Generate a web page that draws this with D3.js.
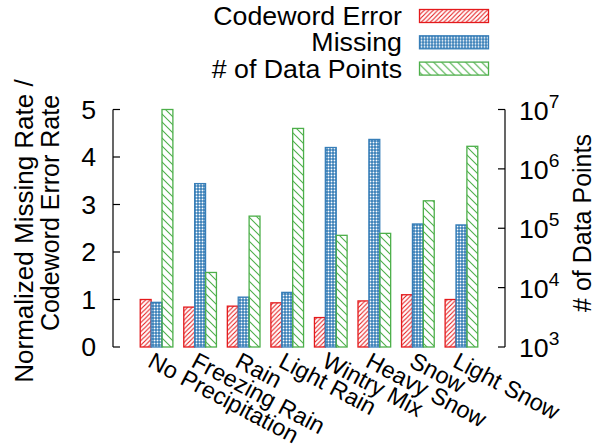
<!DOCTYPE html>
<html>
<head>
<meta charset="utf-8">
<script src="https://cdn.jsdelivr.net/npm/d3@7"></script>
<style>
  body { margin: 0; background: #fff; }
  text { font-family: "Liberation Sans", Arial, sans-serif; fill: #000; }
</style>
</head>
<body>
<svg id="chart" width="597" height="447"></svg>
<script>
// Data.
const categories = ["No Precipitation", "Freezing Rain", "Rain", "Light Rain",
  "Wintry Mix", "Heavy Snow", "Snow", "Light Snow"];
const codewordError = [1.0, 0.84, 0.86, 0.93, 0.62, 0.97, 1.10, 1.0];
const missing = [0.94, 3.44, 1.05, 1.15, 4.2, 4.37, 2.59, 2.57];
const dataPoints = [1.0e7, 1.8e4, 1.6e5, 4.8e6, 7.6e4, 8.2e4, 2.9e5, 2.4e6];
const leftTicks = [0, 1, 2, 3, 4, 5];
const rightTicks = [3, 4, 5, 6, 7];

const red = "#e41a1c", blue = "#377eb8", green = "#4daf4a";
const fs = 25;
const stretch = "scale(1.07,1)"; // the reference font runs a bit wide

const svg = d3.select("#chart");

// Patterns.
const defs = svg.append("defs");
let p = defs.append("pattern").attr("id", "pRed")
  .attr("patternUnits", "userSpaceOnUse").attr("width", 4.5).attr("height", 4.5);
p.append("path").attr("d", "M-1,1 l2,-2 M0,4.5 l4.5,-4.5 M3.5,5.5 l2,-2")
  .attr("stroke", red).attr("stroke-width", 1.1);

p = defs.append("pattern").attr("id", "pBlue")
  .attr("patternUnits", "userSpaceOnUse").attr("width", 3).attr("height", 3);
p.append("rect").attr("width", 3).attr("height", 3).attr("fill", blue);
p.append("circle").attr("cx", 1.5).attr("cy", 1.5).attr("r", 0.95).attr("fill", "#fff");

p = defs.append("pattern").attr("id", "pGreen")
  .attr("patternUnits", "userSpaceOnUse").attr("width", 8).attr("height", 8);
p.append("path").attr("d", "M-2,6 l4,4 M0,0 l8,8 M6,-2 l4,4")
  .attr("stroke", green).attr("stroke-width", 1.1);

// Scales.
const x = d3.scaleLinear().domain([-1, 8]).range([113, 505]);
const yL = d3.scaleLinear().domain([0, 5]).range([347, 109.5]);
const yR = d3.scaleLog().domain([1e3, 1e7]).range([347, 109.5]);
const bw = 0.25;

const series = [
  {vals: codewordError, scale: yL, fill: "url(#pRed)", stroke: red, off: -1.5},
  {vals: missing, scale: yL, fill: "url(#pBlue)", stroke: blue, off: -0.5},
  {vals: dataPoints, scale: yR, fill: "url(#pGreen)", stroke: green, off: 0.5}
];

series.forEach(s => {
  svg.append("g").selectAll("rect")
    .data(s.vals)
    .join("rect")
    .attr("x", (d, i) => x(i + s.off * bw))
    .attr("width", x(bw) - x(0))
    .attr("y", d => s.scale(d))
    .attr("height", d => s.scale.range()[0] - s.scale(d))
    .attr("fill", s.fill)
    .attr("stroke", s.stroke)
    .attr("stroke-width", 1.3);
});

// Left axis.
const gl = svg.append("g");
gl.append("line").attr("x1", 113).attr("x2", 113).attr("y1", yL(5)).attr("y2", yL(0))
  .attr("stroke", "#000").attr("stroke-width", 1.2);
gl.selectAll("line.t").data(leftTicks).join("line").attr("class", "t")
  .attr("x1", 113).attr("x2", 120).attr("y1", d => yL(d)).attr("y2", d => yL(d))
  .attr("stroke", "#000").attr("stroke-width", 1.2);
gl.selectAll("text").data(leftTicks).join("text")
  .attr("transform", d => `translate(96,${yL(d) + 9}) ${stretch}`)
  .attr("text-anchor", "end").attr("font-size", fs)
  .text(d => d);

// Right axis.
const gr = svg.append("g");
gr.append("line").attr("x1", 505).attr("x2", 505).attr("y1", yR(1e7)).attr("y2", yR(1e3))
  .attr("stroke", "#000").attr("stroke-width", 1.2);
gr.selectAll("line.t").data(rightTicks).join("line").attr("class", "t")
  .attr("x1", 498).attr("x2", 505).attr("y1", d => yR(Math.pow(10, d))).attr("y2", d => yR(Math.pow(10, d)))
  .attr("stroke", "#000").attr("stroke-width", 1.2);
const rt = gr.selectAll("text").data(rightTicks).join("text")
  .attr("transform", d => `translate(519,${yR(Math.pow(10, d)) + 10}) ${stretch}`)
  .attr("font-size", fs);
rt.append("tspan").text("10");
rt.append("tspan").attr("dy", -12).attr("font-size", 18).text(d => d);

// Axis titles.
svg.append("text").attr("transform", "translate(33,231) rotate(-90)")
  .attr("text-anchor", "middle").attr("font-size", 26).text("Normalized Missing Rate /");
svg.append("text").attr("transform", "translate(59,213) rotate(-90)")
  .attr("text-anchor", "middle").attr("font-size", fs).text("Codeword Error Rate");
svg.append("text").attr("transform", "translate(591,223) rotate(-90)")
  .attr("text-anchor", "middle").attr("font-size", fs).text("# of Data Points");

// Category labels.
svg.append("g").selectAll("text").data(categories).join("text")
  .attr("transform", (d, i) => `translate(${x(i) - 10},366) rotate(28)`)
  .attr("font-size", 23.5)
  .text(d => d);

// Legend.
const legend = [
  {label: "Codeword Error", fill: "url(#pRed)", stroke: red},
  {label: "Missing", fill: "url(#pBlue)", stroke: blue},
  {label: "# of Data Points", fill: "url(#pGreen)", stroke: green}
];
const lg = svg.append("g").selectAll("g").data(legend).join("g")
  .attr("transform", (d, i) => `translate(0,${16 + i * 26.3})`);
lg.append("text").attr("transform", `translate(402,9) ${stretch}`).attr("text-anchor", "end")
  .attr("font-size", fs).text(d => d.label);
lg.append("rect").attr("x", 419.5).attr("y", -6.5).attr("width", 69).attr("height", 13)
  .attr("fill", d => d.fill).attr("stroke", d => d.stroke).attr("stroke-width", 1.3);
</script>
</body>
</html>
